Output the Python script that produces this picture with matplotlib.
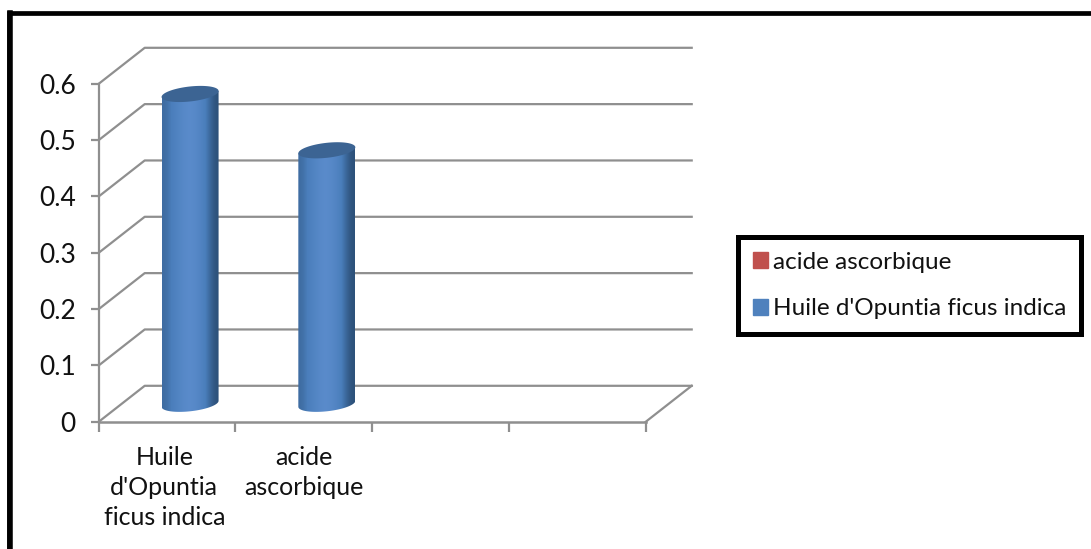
import matplotlib
matplotlib.use('Agg')
import matplotlib.pyplot as plt
from matplotlib.colors import LinearSegmentedColormap
from matplotlib.patches import Patch, Polygon
import numpy as np

plt.rcParams['font.family'] = ['Lato', 'DejaVu Sans']

categories = ["Huile\nd'Opuntia\nficus indica", 'acide\nascorbique']
oil_values = [0.55, 0.45]
y_ticks = [0, 0.1, 0.2, 0.3, 0.4, 0.5, 0.6]
y_labels = ['0', '0.1', '0.2', '0.3', '0.4', '0.5', '0.6']
legend_labels = ['acide ascorbique', "Huile d'Opuntia ficus indica"]
n_slots = 4

W, H = 1091, 549
grey = '#8f8f8f'
text_col = '#111111'
fig = plt.figure(figsize=(W / 100, H / 100), dpi=100)
ax = fig.add_axes([98.7 / W, 1 - 421.8 / H, 547 / W, 338 / H])
ax.set_xlim(0, n_slots)
ax.set_ylim(0, 0.6)
for s in ax.spines.values():
    s.set_visible(False)
ax.patch.set_alpha(0)

# depth of the fake 3d box, in data units
dx = 46 / (547 / n_slots)
dy = 36 / (338 / 0.6)

# walls
for t in y_ticks:
    ax.plot([0, dx, n_slots + dx], [t, t + dy, t + dy], color=grey, lw=1.6, clip_on=False, zorder=1)
ax.plot([n_slots, n_slots + dx], [0, dy], color=grey, lw=1.6, clip_on=False, zorder=1)
ax.plot([0, n_slots], [0, 0], color=grey, lw=1.8, clip_on=False, zorder=1)
ax.plot([0, 0], [0, 0.6], color=grey, lw=1.6, clip_on=False, zorder=1)

ax.set_xticks(range(n_slots + 1))
ax.set_xticklabels([])
ax.set_yticks(y_ticks)
ax.set_yticklabels(y_labels)
ax.tick_params(axis='y', length=6, width=1.6, color=grey, labelsize=19, pad=10.5, labelcolor=text_col)
ax.tick_params(axis='x', length=7, width=1.6, color=grey)
for i, c in enumerate(categories):
    ax.annotate(c, (i + 0.5, 0), xytext=(-2 + 2 * i, -17.5), textcoords='offset points', ha='center', va='top',
                fontsize=18, color=text_col, linespacing=1.36, annotation_clip=False)

# cylinders
bar_half = 28.5 / (547 / n_slots)
ell_b = 7.5 / (338 / 0.6)
tilt = 3 / (338 / 0.6)
gradient = np.array([[0.3, 0.6, 0.85, 1.0, 0.8, 0.45, 0.0]])
cmap = LinearSegmentedColormap.from_list('cyl', ['#2c5078', '#4a7ebb', '#5b8ccc'])
for i, v in enumerate(oil_values):
    cx = i + 0.5 + dx / 2
    base = dy * 0.5
    t = np.linspace(0, np.pi, 60)
    bx = cx - bar_half * np.cos(t)
    by = base - ell_b * np.sin(t) - tilt * np.cos(t)
    top_x = bx[::-1]
    top_y = base + v - tilt * np.cos(t)[::-1]
    verts = np.column_stack([np.r_[bx, top_x], np.r_[by, top_y]])
    im = ax.imshow(gradient, cmap=cmap, extent=[cx - bar_half, cx + bar_half, base - ell_b - tilt, base + v + tilt],
                   aspect='auto', interpolation='bicubic', zorder=3, vmin=0, vmax=1)
    im.set_clip_path(Polygon(verts, closed=True, transform=ax.transData))
    a = np.linspace(0, 2 * np.pi, 120)
    ex = cx + bar_half * np.cos(a)
    ey = base + v + ell_b * np.sin(a) + tilt * np.cos(a)
    ax.fill(ex, ey, color='#3c6493', zorder=4, lw=0)
ax.set_xlim(0, n_slots)
ax.set_ylim(0, 0.6)

# outer frame, as in the pasted figure
frame = fig.add_axes([0, 0, 1, 1], zorder=-1)
frame.set_xlim(0, W)
frame.set_ylim(H, 0)
frame.axis('off')
frame.plot([W + 5, 9, 9], [13, 13, H + 5], color='black', lw=3.4, clip_on=False, solid_joinstyle='miter')
frame.plot([9.5, 9.5], [13, H + 5], color='black', lw=4, clip_on=False)

# legend
handles = [Patch(color='#c0504d'), Patch(color='#4f81bd')]
leg = fig.legend(handles, legend_labels, loc='center left', bbox_to_anchor=(738 / W, 1 - 285.5 / H),
                 borderaxespad=0, fontsize=17.5, frameon=True, fancybox=False, edgecolor='black',
                 labelspacing=1.05, handlelength=0.62, handleheight=0.62, handletextpad=0.2,
                 borderpad=0.62, labelcolor=text_col)
leg.get_frame().set_linewidth(3.6)
leg.get_frame().set_alpha(1)

fig.savefig('out.png', dpi=100)
